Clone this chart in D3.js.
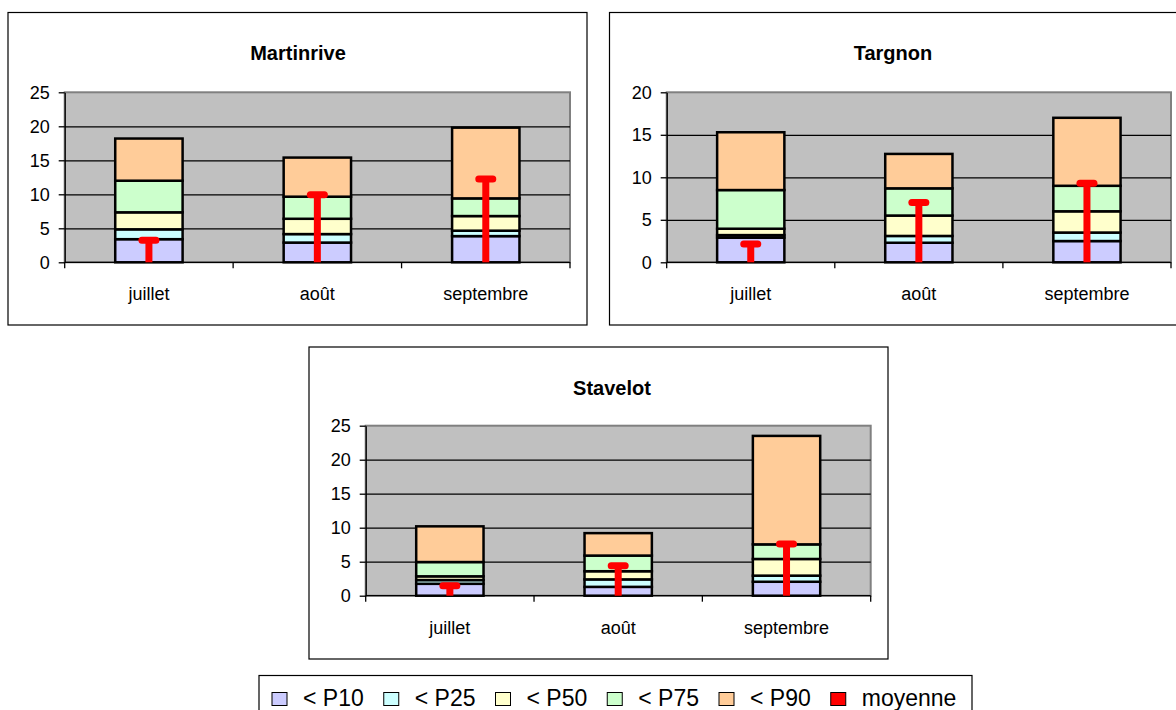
<!DOCTYPE html>
<html>
<head>
<meta charset="utf-8">
<script src="https://cdn.jsdelivr.net/npm/d3@7"></script>
<style>
  body { margin: 0; background: #fff; }
  svg { display: block; font-family: "Liberation Sans", Arial, sans-serif; }
</style>
</head>
<body>
<script>
// data (cumulative percentile bounds per month)
const stations = ["Martinrive", "Targnon", "Stavelot"];
const months = ["juillet", "août", "septembre"];
const yMax = [25, 20, 25];
const p10 = [[3.4, 2.9, 3.85], [2.9, 2.3, 2.5], [1.75, 1.3, 2.05]];
const p25 = [[4.85, 4.15, 4.65], [3.2, 3.1, 3.5], [2.3, 2.4, 2.95]];
const p50 = [[7.35, 6.4, 6.8], [3.95, 5.5, 6.0], [2.85, 3.6, 5.4]];
const p75 = [[12.0, 9.65, 9.4], [8.5, 8.7, 9.0], [4.95, 5.9, 7.55]];
const p90 = [[18.2, 15.4, 19.8], [15.3, 12.75, 17.0], [10.2, 9.2, 23.5]];
const moyenne = [[3.25, 9.95, 12.25], [2.15, 7.05, 9.3], [1.45, 4.4, 7.6]];
const legendLabels = ["< P10", "< P25", "< P50", "< P75", "< P90", "moyenne"];

const colors = ["#CCCCFF", "#CCFFFF", "#FFFFCC", "#CCFFCC", "#FFCC99", "#FF0000"];

const W = 1176, H = 710;
const svg = d3.select("body").append("svg").attr("width", W).attr("height", H);

// chart frames
const frames = [
  { box: [8, 12.5, 579, 312.5], plot: [64.7, 92.3, 570, 262.3], titleX: 298 },
  { box: [609.5, 12.5, 580, 312.5], plot: [666.7, 92.3, 1171, 262.3], titleX: 893 },
  { box: [309, 347, 579, 312], plot: [365.7, 425.7, 870.7, 595.7], titleX: 612 }
];

stations.forEach(function (name, s) {
  var f = frames[s];
  var g = svg.append("g");
  var x0 = f.plot[0], y0 = f.plot[1], x1 = f.plot[2], y1 = f.plot[3];

  g.append("rect")
    .attr("x", f.box[0]).attr("y", f.box[1])
    .attr("width", f.box[2]).attr("height", f.box[3])
    .attr("fill", "#fff").attr("stroke", "#000").attr("stroke-width", 1.2);

  g.append("text")
    .attr("x", f.titleX).attr("y", f.box[1] + 47.5)
    .attr("text-anchor", "middle")
    .attr("font-size", 20).attr("font-weight", "bold")
    .text(name);

  var x = d3.scaleBand().domain(months).range([x0, x1])
    .paddingInner(0.6).paddingOuter(0.3);
  var y = d3.scaleLinear().domain([0, yMax[s]]).range([y1, y0]);
  var step = (x1 - x0) / months.length;

  // plot area
  g.append("rect")
    .attr("x", x0).attr("y", y0).attr("width", x1 - x0).attr("height", y1 - y0)
    .attr("fill", "#C0C0C0").attr("stroke", "#808080").attr("stroke-width", 2);

  // gridlines
  var ticks = d3.range(0, yMax[s] + 0.1, 5);
  g.append("g")
    .attr("transform", "translate(" + x0 + ",0)")
    .call(d3.axisLeft(y).tickValues(ticks.filter(function (t) { return t > 0 && t < yMax[s]; }))
      .tickSize(-(x1 - x0)).tickFormat(""))
    .call(function (a) {
      a.select(".domain").remove();
      a.selectAll("line").attr("stroke", "#000").attr("stroke-width", 1.3);
    });

  // y axis
  g.append("g")
    .attr("transform", "translate(" + x0 + ",0)")
    .call(d3.axisLeft(y).tickValues(ticks).tickSize(6).tickPadding(9).tickSizeOuter(0))
    .call(function (a) {
      a.select(".domain").attr("stroke", "#000").attr("stroke-width", 1.3);
      a.selectAll("line").attr("stroke", "#000").attr("stroke-width", 1.3);
      a.selectAll("text").attr("font-size", 18).attr("fill", "#000")
        .attr("font-family", "Liberation Sans, Arial, sans-serif");
    });

  // bars
  months.forEach(function (m, i) {
    var bounds = [0, p10[s][i], p25[s][i], p50[s][i], p75[s][i], p90[s][i]];
    var segs = d3.range(5).map(function (k) { return { k: k, lo: bounds[k], hi: bounds[k + 1] }; });
    g.selectAll(null).data(segs).enter().append("rect")
      .attr("x", x(m)).attr("width", x.bandwidth())
      .attr("y", function (d) { return y(d.hi); })
      .attr("height", function (d) { return y(d.lo) - y(d.hi); })
      .attr("fill", function (d) { return colors[d.k]; })
      .attr("stroke", "#000").attr("stroke-width", 2.5);
  });

  // x axis
  g.append("line")
    .attr("x1", x0).attr("x2", x1).attr("y1", y1).attr("y2", y1)
    .attr("stroke", "#000").attr("stroke-width", 1.3);
  g.selectAll(null).data(d3.range(months.length + 1)).enter().append("line")
    .attr("x1", function (d) { return x0 + d * step; })
    .attr("x2", function (d) { return x0 + d * step; })
    .attr("y1", y1).attr("y2", y1 + 6)
    .attr("stroke", "#000").attr("stroke-width", 1.3);
  g.selectAll(null).data(months).enter().append("text")
    .attr("x", function (d) { return x(d) + x.bandwidth() / 2; })
    .attr("y", y1 + 38)
    .attr("text-anchor", "middle").attr("font-size", 18)
    .text(function (d) { return d; });

  // mean markers
  var mg = g.append("g").attr("stroke", colors[5]).attr("stroke-width", 7);
  mg.selectAll(null).data(months).enter().append("line")
    .attr("x1", function (d) { return x(d) + x.bandwidth() / 2; })
    .attr("x2", function (d) { return x(d) + x.bandwidth() / 2; })
    .attr("y1", y(0))
    .attr("y2", function (d, i) { return y(moyenne[s][i]); });
  mg.selectAll(null).data(months).enter().append("line")
    .attr("stroke-linecap", "round")
    .attr("x1", function (d) { return x(d) + x.bandwidth() / 2 - 7; })
    .attr("x2", function (d) { return x(d) + x.bandwidth() / 2 + 7; })
    .attr("y1", function (d, i) { return y(moyenne[s][i]); })
    .attr("y2", function (d, i) { return y(moyenne[s][i]); });
});

// legend
var lg = svg.append("g");
lg.append("rect")
  .attr("x", 259).attr("y", 675.5).attr("width", 713).attr("height", 60)
  .attr("fill", "#fff").attr("stroke", "#000").attr("stroke-width", 1.2);
var lx = 272;
legendLabels.forEach(function (label, i) {
  lg.append("rect")
    .attr("x", lx).attr("y", 692.5).attr("width", 15).attr("height", 13)
    .attr("fill", colors[i]).attr("stroke", "#000").attr("stroke-width", 1);
  var t = lg.append("text")
    .attr("x", lx + 31).attr("y", 706)
    .attr("font-size", 23)
    .text(label);
  lx += 31 + t.node().getComputedTextLength() + 20;
});
</script>
</body>
</html>
